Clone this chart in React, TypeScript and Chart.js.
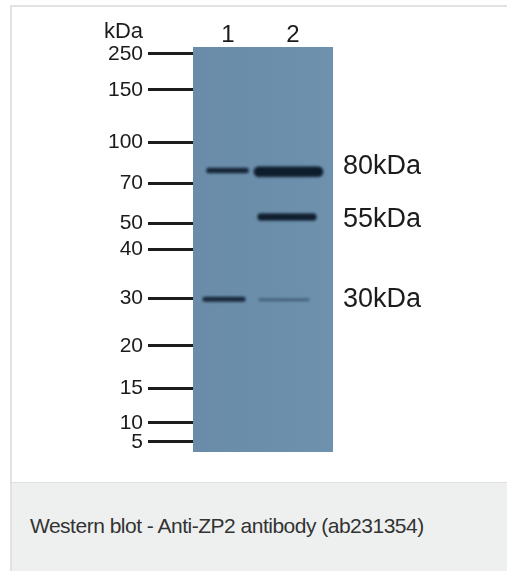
import React, { useEffect, useRef } from 'react';
import { Chart, registerables } from 'chart.js';

Chart.register(...registerables);

// Molecular-weight marker ladder (kDa) and migration (% of blot height from top)
const markerKDa = ['250', '150', '100', '70', '50', '40', '30', '20', '15', '10', '5'];
const markerMigration = [1.7, 10.6, 23.5, 33.6, 43.5, 50.0, 62.1, 73.8, 84.3, 92.8, 97.5];

// Lanes (position as % of blot width)
const laneLabels = ['1', '2'];
const lanePosition = [25.0, 71.4];

// Detected bands
const bandNames = ['Lane 1 – 80 kDa', 'Lane 2 – 80 kDa', 'Lane 2 – 55 kDa', 'Lane 1 – 30 kDa', 'Lane 2 – 30 kDa'];
const bandMigration = [30.5, 30.8, 42.0, 62.3, 62.4];
const bandStart = [11.4, 47.1, 48.6, 8.6, 47.9];
const bandEnd = [37.9, 89.3, 85.7, 35.7, 82.1];

// Band annotations on the right
const bandTags = ['80kDa', '55kDa', '30kDa'];
const bandTagMigration = [29.4, 42.7, 62.3];

// Styles (kept apart from the data)
const bandStyles = [
  { core: 4, halo: 7, color: 'rgba(16,30,46,1)', haloColor: 'rgba(22,40,60,0.4)' },
  { core: 9, halo: 12, color: 'rgba(12,24,38,1)', haloColor: 'rgba(18,34,52,0.45)' },
  { core: 6, halo: 9, color: 'rgba(14,27,42,1)', haloColor: 'rgba(20,38,56,0.4)' },
  { core: 4, halo: 6.5, color: 'rgba(18,34,52,0.95)', haloColor: 'rgba(25,45,65,0.35)' },
  { core: 2, halo: 4, color: 'rgba(40,65,90,0.5)', haloColor: 'rgba(40,65,90,0.2)' },
];

const FONT = '"Liberation Sans", Arial, Helvetica, sans-serif';
const TEXT = '#1b1b1b';

const blotBackground = {
  id: 'blotBackground',
  beforeDraw(chart: any) {
    const { ctx, chartArea } = chart;
    const { left, top, right, bottom } = chartArea;
    ctx.save();
    const g = ctx.createLinearGradient(left, 0, right, 0);
    g.addColorStop(0, '#6a8ca8');
    g.addColorStop(0.5, '#6b8eaa');
    g.addColorStop(1, '#6e92ae');
    ctx.fillStyle = g;
    ctx.fillRect(left, top, right - left, bottom - top);
    ctx.restore();
  },
};

const softBands = {
  id: 'softBands',
  beforeDatasetsDraw(chart: any) {
    chart.ctx.save();
    chart.ctx.filter = 'blur(0.8px)';
  },
  afterDatasetsDraw(chart: any) {
    chart.ctx.filter = 'none';
    chart.ctx.restore();
  },
};

const unitLabel = {
  id: 'unitLabel',
  afterDraw(chart: any) {
    const { ctx, chartArea } = chart;
    const y = chart.scales.y;
    ctx.save();
    ctx.font = `22px ${FONT}`;
    ctx.fillStyle = TEXT;
    ctx.textAlign = 'right';
    ctx.textBaseline = 'alphabetic';
    ctx.fillText('kDa', y.right - 50, chartArea.top - 9);
    ctx.restore();
  },
};

const noScalePadding = (s: any) => {
  s.paddingTop = 0;
  s.paddingBottom = 0;
  s.paddingLeft = 0;
  s.paddingRight = 0;
};

export default function App() {
  const ref = useRef<HTMLCanvasElement | null>(null);

  useEffect(() => {
    const canvas = ref.current;
    if (!canvas) return;

    const datasets: any[] = [];
    bandNames.forEach((name, i) => {
      const s = bandStyles[i];
      const pts = [
        { x: bandStart[i], y: bandMigration[i] },
        { x: bandEnd[i], y: bandMigration[i] },
      ];
      datasets.push({
        label: name + ' (halo)',
        data: pts,
        borderColor: s.haloColor,
        borderWidth: s.halo,
        borderCapStyle: 'round',
        pointRadius: 0,
        fill: false,
        tension: 0,
        xAxisID: 'x',
        yAxisID: 'y',
      });
      datasets.push({
        label: name,
        data: pts,
        borderColor: s.color,
        borderWidth: s.core,
        borderCapStyle: 'round',
        pointRadius: 0,
        fill: false,
        tension: 0,
        xAxisID: 'x',
        yAxisID: 'y',
      });
    });

    const chart = new Chart(canvas, {
      type: 'line',
      data: { datasets },
      plugins: [blotBackground, softBands, unitLabel],
      options: {
        animation: false,
        responsive: false,
        events: [],
        layout: { padding: { left: 0, right: 0, top: 0, bottom: 23 } },
        plugins: {
          legend: { display: false },
          tooltip: { enabled: false },
        },
        scales: {
          x: {
            type: 'linear',
            position: 'top',
            min: 0,
            max: 100,
            afterBuildTicks: (s: any) => {
              s.ticks = lanePosition.map((v) => ({ value: v }));
            },
            afterFit: (s: any) => {
              s.height = 47;
              noScalePadding(s);
            },
            ticks: {
              autoSkip: false,
              maxRotation: 0,
              padding: 0,
              color: TEXT,
              font: { family: FONT, size: 24, lineHeight: 1 },
              callback: (_v: any, i: number) => laneLabels[i],
            },
            grid: { display: false, drawTicks: false },
            border: { display: false },
          },
          y: {
            type: 'linear',
            position: 'left',
            reverse: true,
            min: 0,
            max: 100,
            afterBuildTicks: (s: any) => {
              s.ticks = markerMigration.map((v) => ({ value: v }));
            },
            afterFit: (s: any) => {
              s.width = 103;
              noScalePadding(s);
            },
            ticks: {
              autoSkip: false,
              padding: 5,
              color: TEXT,
              font: { family: FONT, size: 21 },
              callback: (_v: any, i: number) => markerKDa[i],
            },
            grid: {
              drawOnChartArea: false,
              drawTicks: true,
              tickLength: 45,
              color: '#1c1c1c',
              lineWidth: 3,
            },
            border: { display: false },
          },
          yR: {
            type: 'linear',
            position: 'right',
            reverse: true,
            min: 0,
            max: 100,
            afterBuildTicks: (s: any) => {
              s.ticks = bandTagMigration.map((v) => ({ value: v }));
            },
            afterFit: (s: any) => {
              s.width = 137;
              noScalePadding(s);
            },
            ticks: {
              autoSkip: false,
              padding: 10,
              color: TEXT,
              font: { family: FONT, size: 27 },
              callback: (_v: any, i: number) => bandTags[i],
            },
            grid: { display: false, drawTicks: false },
            border: { display: false },
          },
        },
      } as any,
    });

    return () => chart.destroy();
  }, []);

  return (
    <div
      style={{
        position: 'absolute',
        left: 0,
        top: 0,
        width: 507,
        height: 571,
        overflow: 'hidden',
        background: '#ffffff',
        fontFamily: FONT,
      }}
    >
      <div
        style={{
          position: 'absolute',
          left: 10,
          top: 5,
          right: 0,
          bottom: 0,
          borderLeft: '2px solid #e2e2e2',
          borderTop: '2px solid #e2e2e2',
          background: '#ffffff',
        }}
      />
      <canvas
        ref={ref}
        width={380}
        height={475}
        style={{ position: 'absolute', left: 90, top: 0, width: 380, height: 475 }}
      />
      <div
        style={{
          position: 'absolute',
          left: 10,
          top: 482,
          right: 0,
          height: 89,
          boxSizing: 'border-box',
          background: '#eef0ef',
          borderTop: '1px solid #dfe1e0',
          borderLeft: '2px solid #e2e2e2',
          display: 'flex',
          alignItems: 'center',
          paddingLeft: 18,
          paddingBottom: 2,
          fontSize: 21,
          letterSpacing: -0.5,
          color: '#333333',
          whiteSpace: 'nowrap',
        }}
      >
        Western blot - Anti-ZP2 antibody (ab231354)
      </div>
    </div>
  );
}
